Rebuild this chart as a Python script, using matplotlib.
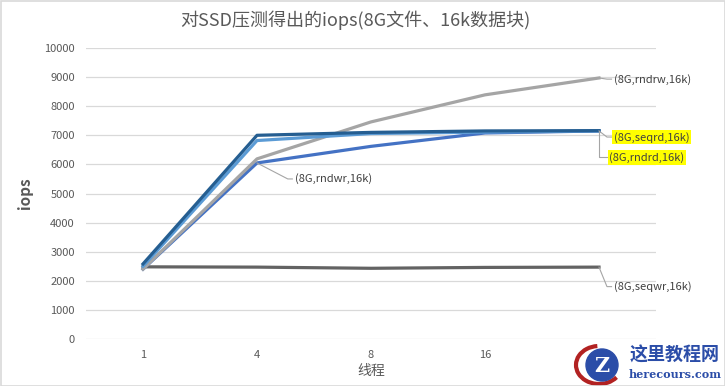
import matplotlib.pyplot as plt
from matplotlib.patches import Rectangle, Circle, Arc

plt.rcParams['font.family'] = ['Noto Sans CJK SC', 'DejaVu Sans']

threads = ['1', '4', '8', '16', '32']
seqwr = [2480, 2470, 2430, 2460, 2470]
rndwr = [2400, 6050, 6620, 7080, 7150]
rndrw = [2400, 6190, 7460, 8390, 8970]
seqrd = [2500, 6820, 7060, 7110, 7150]
rndrd = [2580, 7000, 7100, 7150, 7160]

x = list(range(len(threads)))

fig = plt.figure(figsize=(7.25, 3.86), dpi=100)
ax = fig.add_axes([86 / 725, 1 - 339 / 386, 570 / 725, 291 / 386])

ax.plot(x, seqwr, color='#636363', lw=2.3, zorder=3)
ax.plot(x, rndwr, color='#4472C4', lw=2.3, zorder=4)
ax.plot(x, rndrw, color='#A5A5A5', lw=2.3, zorder=4.5)
ax.plot(x, seqrd, color='#5B9BD5', lw=2.3, zorder=5)
ax.plot(x, rndrd, color='#255E91', lw=2.3, zorder=6)

ax.set_xlim(-0.5, len(threads) - 0.5)
ax.set_ylim(0, 10000)
ax.set_yticks(range(0, 10001, 1000))
ax.set_xticks(x)
ax.set_xticklabels(threads)
# last category label sits under the watermark in the original
ax.get_xticklabels()[-1].set_visible(False)
ax.grid(axis='y', color='#D9D9D9', lw=0.9)
ax.set_axisbelow(True)
for s in ax.spines.values():
    s.set_visible(False)
ax.tick_params(length=0, colors='#595959', labelsize=8, pad=8)

ax.set_ylabel('iops', fontsize=11, fontweight='bold', color='#595959', labelpad=8)
ax.set_xlabel('线程', fontsize=10, color='#595959', labelpad=3)
fig.text(0.49, 1 - 20 / 386, '对SSD压测得出的iops(8G文件、16k数据块)', ha='center', va='center',
         fontsize=13, fontweight='medium', color='#595959')

# data labels with leader lines
lab_kw = dict(fontsize=8, color='#404040', va='center', ha='left')
line_kw = dict(color='#A5A5A5', lw=0.8)

def label(xi, yi, tx, ty, text, yellow=False, elbow=False):
    if elbow:
        ax.plot([xi, xi, tx - 0.02], [yi, ty, ty], **line_kw, zorder=7)
    else:
        ax.plot([xi, tx - 0.06, tx - 0.02], [yi, ty, ty], **line_kw, zorder=7)
    kw = dict(lab_kw)
    if yellow:
        kw['bbox'] = dict(boxstyle='square,pad=0.15', fc='#FFFF00', ec='none')
    ax.text(tx, ty, text, **kw, zorder=8)

label(4, rndrw[4], 4.13, 8930, '(8G,rndrw,16k)')
label(4, seqrd[4], 4.13, 6940, '(8G,seqrd,16k)', yellow=True)
label(4, rndrd[4], 4.09, 6240, '(8G,rndrd,16k)', yellow=True, elbow=True)
label(1, rndwr[1], 1.33, 5500, '(8G,rndwr,16k)')
label(4, seqwr[4], 4.13, 1800, '(8G,seqwr,16k)')

# watermark
fig.patches.append(Rectangle((572 / 725, 0), 153 / 725, 44 / 386, transform=fig.transFigure,
                             fc='white', ec='none', zorder=10))
wm = fig.add_axes([572 / 725, 0, 56 / 725, 44 / 386], zorder=11)
wm.set_xlim(0, 56)
wm.set_ylim(0, 44)
wm.set_aspect('equal')
wm.axis('off')
wm.add_patch(Arc((27, 21), 46, 38, theta1=95, theta2=325, color='#B22222', lw=3))
wm.add_patch(Circle((30, 21), 16, color='#2B4DA8'))
wm.text(30, 20, 'Z', fontsize=15, fontweight='bold', color='white', ha='center', va='center',
        family='DejaVu Serif')
fig.text(675 / 725, 1 - 355 / 386, '这里教程网', fontsize=13, fontweight='bold', color='#2B4DA8',
         ha='center', va='center', zorder=12, family=['Noto Sans CJK SC'])
fig.text(675 / 725, 1 - 375 / 386, 'herecours.com', fontsize=8, fontweight='bold', color='#2B4DA8',
         ha='center', va='center', zorder=12, family='DejaVu Serif')

fig.patches.append(Rectangle((0.5 / 725, 0.5 / 386), 1 - 1 / 725, 1 - 1 / 386, transform=fig.transFigure,
                             fill=False, ec='#D9D9D9', lw=1.2, zorder=20))

fig.savefig('out.png', dpi=100)
